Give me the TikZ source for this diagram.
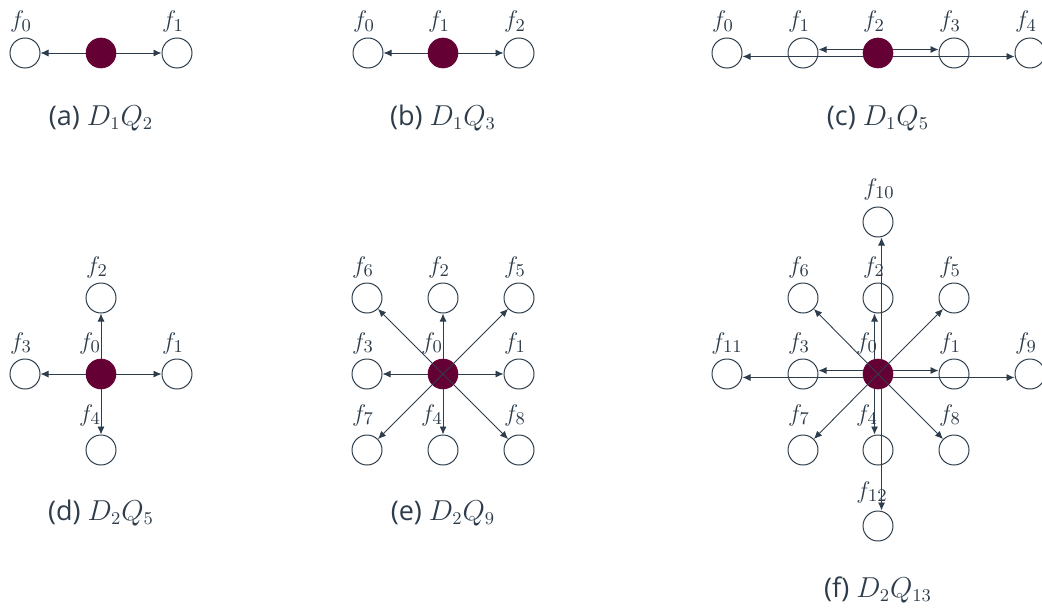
\documentclass[tikz,border=0pt]{standalone}
\usepackage{fontspec}
\setsansfont{Open Sans}
\usetikzlibrary{arrows.meta,calc}
\definecolor{ink}{HTML}{2E3D4B}
\definecolor{plum}{HTML}{650035}
\tikzset{
 nd/.style={circle,draw=ink,line width=0.5pt,minimum size=15pt,inner sep=0pt},
 hub/.style={circle,fill=plum,draw=plum,line width=0.3pt,minimum size=15pt,inner sep=0pt},
 lab/.style={text=ink,font=\fontsize{12.5}{14}\selectfont,inner sep=0pt},
 capt/.style={text=ink,font=\sffamily\fontsize{13.5}{16}\selectfont,inner sep=0pt},
 arr/.style={draw=ink,line width=0.45pt,-{Latex[length=4pt,width=3.5pt]}},
}
\begin{document}
\begin{tikzpicture}[x=0.5pt,y=-0.5pt]
\useasboundingbox (0,0) rectangle (1042,610);
% ---------- (a)
\node[nd] (a0) at (25,53) {};
\node[hub] (ac) at (101,53) {};
\node[nd] (a1) at (177,53) {};
\node[lab] (la0) at (21,22) {$f_0$};
\node[lab] (la1) at (173,22) {$f_1$};
\draw[arr] (ac) -- (a0);
\draw[arr] (ac) -- (a1);
\node[capt] (capa) at (101,118) {(a) $D_1Q_2$};
% ---------- (b)
\node[nd] (b0) at (368,53) {};
\node[hub] (bc) at (443,53) {};
\node[nd] (b2) at (519,53) {};
\node[lab] (lb0) at (364,22) {$f_0$};
\node[lab] (lb1) at (439,22) {$f_1$};
\node[lab] (lb2) at (515,22) {$f_2$};
\draw[arr] (bc) -- (b0);
\draw[arr] (bc) -- (b2);
\node[capt] (capb) at (443,118) {(b) $D_1Q_3$};
% ---------- (c)
\node[nd] (c0) at (727,53) {};
\node[nd] (c1) at (803,53) {};
\node[hub] (cc) at (878,53) {};
\node[nd] (c3) at (954,53) {};
\node[nd] (c4) at (1030,53) {};
\node[lab] (lc0) at (723,22) {$f_0$};
\node[lab] (lc1) at (799,22) {$f_1$};
\node[lab] (lc2) at (874,22) {$f_2$};
\node[lab] (lc3) at (950,22) {$f_3$};
\node[lab] (lc4) at (1026,22) {$f_4$};
\draw[arr] ([yshift=1.75pt]cc.west) -- ([yshift=1.75pt]c1.east);
\draw[arr] ([yshift=-1.75pt]cc.west) -- ([yshift=-1.75pt]c0.east);
\draw[arr] ([yshift=1.75pt]cc.east) -- ([yshift=1.75pt]c3.west);
\draw[arr] ([yshift=-1.75pt]cc.east) -- ([yshift=-1.75pt]c4.west);
\node[capt] (capc) at (878,118) {(c) $D_1Q_5$};
% ---------- (d)
\node[hub] (dc) at (101,374) {};
\node[nd] (d1) at (177,374) {};
\node[nd] (d2) at (101,298) {};
\node[nd] (d3) at (25,374) {};
\node[nd] (d4) at (101,450) {};
\node[lab] (ld0) at (90,343) {$f_0$};
\node[lab] (ld1) at (173,343) {$f_1$};
\node[lab] (ld2) at (97,267) {$f_2$};
\node[lab] (ld3) at (21,343) {$f_3$};
\node[lab] (ld4) at (90,415) {$f_4$};
\draw[arr] (dc) -- (d1);
\draw[arr] (dc) -- (d2);
\draw[arr] (dc) -- (d3);
\draw[arr] (dc) -- (d4);
\node[capt] (capd) at (101,513) {(d) $D_2Q_5$};
% ---------- (e)
\node[hub] (ec) at (443,374) {};
\node[nd] (e1) at (519,374) {};
\node[nd] (e2) at (443,298) {};
\node[nd] (e3) at (367,374) {};
\node[nd] (e4) at (443,450) {};
\node[nd] (e5) at (519,298) {};
\node[nd] (e6) at (367,298) {};
\node[nd] (e7) at (367,450) {};
\node[nd] (e8) at (519,450) {};
\node[lab] (le0) at (432,343) {$f_0$};
\node[lab] (le1) at (515,343) {$f_1$};
\node[lab] (le2) at (439,267) {$f_2$};
\node[lab] (le3) at (363,343) {$f_3$};
\node[lab] (le4) at (432,415) {$f_4$};
\node[lab] (le5) at (515,267) {$f_5$};
\node[lab] (le6) at (363,267) {$f_6$};
\node[lab] (le7) at (363,415) {$f_7$};
\node[lab] (le8) at (515,415) {$f_8$};
\draw[arr] (ec) -- (e1);
\draw[arr] (ec) -- (e2);
\draw[arr] (ec) -- (e3);
\draw[arr] (ec) -- (e4);
\draw[arr] (ec.center) -- (e5);
\draw[arr] (ec.center) -- (e6);
\draw[arr] (ec.center) -- (e7);
\draw[arr] (ec.center) -- (e8);
\node[capt] (cape) at (443,513) {(e) $D_2Q_9$};
% ---------- (f)
\node[hub] (fc) at (878,374) {};
\node[nd] (g1) at (954,374) {};
\node[nd] (g2) at (878,298) {};
\node[nd] (g3) at (803,374) {};
\node[nd] (g4) at (878,450) {};
\node[nd] (g5) at (954,298) {};
\node[nd] (g6) at (803,298) {};
\node[nd] (g7) at (803,450) {};
\node[nd] (g8) at (954,450) {};
\node[nd] (g9) at (1030,374) {};
\node[nd] (g10) at (878,222) {};
\node[nd] (g11) at (727,374) {};
\node[nd] (g12) at (878,526) {};
\node[lab] (lg0) at (867,343) {$f_0$};
\node[lab] (lg1) at (950,343) {$f_1$};
\node[lab] (lg2) at (874,267) {$f_2$};
\node[lab] (lg3) at (799,343) {$f_3$};
\node[lab] (lg4) at (867,415) {$f_4$};
\node[lab] (lg5) at (950,267) {$f_5$};
\node[lab] (lg6) at (799,267) {$f_6$};
\node[lab] (lg7) at (799,415) {$f_7$};
\node[lab] (lg8) at (950,415) {$f_8$};
\node[lab] (lg9) at (1026,343) {$f_9$};
\node[lab] (lg10) at (879,189) {$f_{10}$};
\node[lab] (lg11) at (727,343) {$f_{11}$};
\node[lab] (lg12) at (872,492) {$f_{12}$};
\draw[arr] ([yshift=1.75pt]fc.east) -- ([yshift=1.75pt]g1.west);
\draw[arr] ([yshift=-1.75pt]fc.east) -- ([yshift=-1.75pt]g9.west);
\draw[arr] ([yshift=1.75pt]fc.west) -- ([yshift=1.75pt]g3.east);
\draw[arr] ([yshift=-1.75pt]fc.west) -- ([yshift=-1.75pt]g11.east);
\draw[arr] ([xshift=-1.75pt]fc.north) -- ([xshift=-1.75pt]g2.south);
\draw[arr] ([xshift=1.75pt]fc.north) -- ([xshift=1.75pt]g10.south);
\draw[arr] ([xshift=-1.75pt]fc.south) -- ([xshift=-1.75pt]g4.north);
\draw[arr] ([xshift=1.75pt]fc.south) -- ([xshift=1.75pt]g12.north);
\draw[arr] (fc.center) -- (g5);
\draw[arr] (fc.center) -- (g6);
\draw[arr] (fc.center) -- (g7);
\draw[arr] (fc.center) -- (g8);
\node[capt] (capf) at (878,590) {(f) $D_2Q_{13}$};
\end{tikzpicture}
\end{document}
